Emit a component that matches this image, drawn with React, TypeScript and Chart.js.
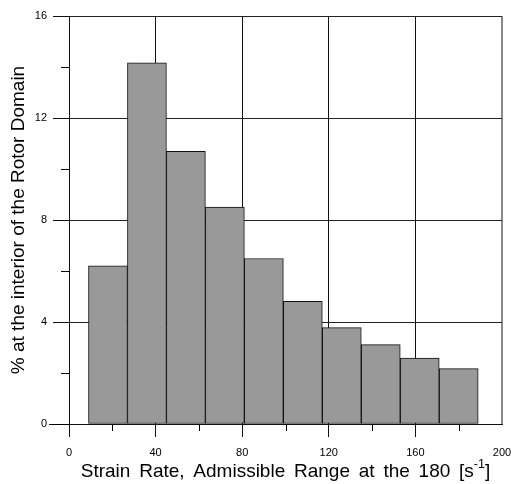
import React, { useEffect, useRef } from 'react';
import { Chart, registerables } from 'chart.js';

Chart.register(...registerables);

// Histogram bins (centre of each 18-wide bin) and their percentages
const binCenters = [18, 36, 54, 72, 90, 108, 126, 144, 162, 180];
const percentages = [6.2, 14.16, 10.69, 8.51, 6.49, 4.81, 3.78, 3.11, 2.59, 2.17];

const xMin = 0;
const xMax = 200;
const xMajorStep = 40;
const xMinorTicks = [20, 60, 100, 140, 180];
const yMin = 0;
const yMax = 16;
const yMajorStep = 4;
const yMinorTicks = [2, 6, 10, 14];

const yTitle = '% at the interior of the Rotor Domain';
const xTitleMain = 'Strain Rate, Admissible Range at the 180 [s';
const xTitleSup = '-1';
const xTitleEnd = ']';

const FONT = "'Liberation Sans', Arial, sans-serif";

const extrasPlugin = {
  id: 'extras',
  afterDraw(chart: any) {
    const ctx = chart.ctx;
    const xs = chart.scales.x;
    const ys = chart.scales.y;
    const area = chart.chartArea;
    ctx.save();
    ctx.strokeStyle = '#000';
    ctx.lineWidth = 1;
    // minor ticks
    xMinorTicks.forEach((v) => {
      const px = Math.round(xs.getPixelForValue(v)) + 0.5;
      ctx.beginPath();
      ctx.moveTo(px, area.bottom);
      ctx.lineTo(px, area.bottom + 7);
      ctx.stroke();
    });
    yMinorTicks.forEach((v) => {
      const py = Math.round(ys.getPixelForValue(v)) + 0.5;
      ctx.beginPath();
      ctx.moveTo(area.left - 8, py);
      ctx.lineTo(area.left, py);
      ctx.stroke();
    });
    // longer tick at y = 0
    const y0 = Math.round(ys.getPixelForValue(yMin)) + 0.5;
    ctx.beginPath();
    ctx.moveTo(area.left - 20, y0);
    ctx.lineTo(area.left, y0);
    ctx.stroke();

    // x title with superscript
    ctx.fillStyle = '#000';
    ctx.textBaseline = 'alphabetic';
    ctx.textAlign = 'left';
    const mainFont = `19px ${FONT}`;
    const supFont = `12.5px ${FONT}`;
    try {
      (ctx as any).wordSpacing = '3.5px';
    } catch (e) {}
    ctx.font = mainFont;
    const w1 = ctx.measureText(xTitleMain).width;
    const w3 = ctx.measureText(xTitleEnd).width;
    ctx.font = supFont;
    const w2 = ctx.measureText(xTitleSup).width;
    const total = w1 + w2 + w3;
    const cx = (area.left + area.right) / 2;
    let x = cx - total / 2;
    const baseY = 477;
    ctx.font = mainFont;
    ctx.fillText(xTitleMain, x, baseY);
    x += w1;
    ctx.font = supFont;
    ctx.fillText(xTitleSup, x, baseY - 9);
    x += w2;
    ctx.font = mainFont;
    ctx.fillText(xTitleEnd, x, baseY);
    ctx.restore();
  },
};

export default function App() {
  const ref = useRef<HTMLCanvasElement | null>(null);

  useEffect(() => {
    document.body.style.margin = '0';
    const canvas = ref.current;
    if (!canvas) return;
    const chart = new Chart(canvas, {
      type: 'bar',
      data: {
        datasets: [
          {
            data: binCenters.map((c, i) => ({ x: c, y: percentages[i] })),
            backgroundColor: '#999999',
            borderColor: '#111111',
            borderWidth: 1,
            borderSkipped: false,
            barPercentage: 1,
            categoryPercentage: 1,
          },
        ],
      },
      options: {
        animation: false,
        responsive: false,
        layout: { padding: { top: 16, right: 9, left: 0, bottom: 0 } },
        plugins: { legend: { display: false }, tooltip: { enabled: false } },
        scales: {
          x: {
            type: 'linear',
            min: xMin,
            max: xMax,
            offset: false,
            grid: {
              offset: false,
              drawTicks: true,
              tickLength: 13,
              color: (c: any) => {
                const v = c.tick && c.tick.value;
                if (v === xMax) return '#8a8a8a';
                return v % xMajorStep === 0 ? '#111' : 'rgba(0,0,0,0)';
              },
              lineWidth: (c: any) => (c.tick && c.tick.value === xMax ? 2 : 1),
              tickColor: (c: any) =>
                c.tick && c.tick.value % xMajorStep === 0 && c.tick.value !== xMax ? '#111' : 'rgba(0,0,0,0)',
            },
            border: { display: true, color: '#111', width: 1 },
            ticks: {
              stepSize: 20,
              autoSkip: false,
              maxRotation: 0,
              padding: 9,
              color: '#000',
              font: { family: FONT, size: 11 },
              callback: (v: any) => (Number(v) % xMajorStep === 0 ? String(v) : ''),
            },
            afterFit: (s: any) => {
              s.height = 60;
              s.paddingLeft = 0;
              s.paddingRight = 0;
              s.paddingTop = 0;
              s.paddingBottom = 0;
            },
          },
          y: {
            type: 'linear',
            min: yMin,
            max: yMax,
            grid: {
              drawTicks: true,
              tickLength: 16,
              color: (c: any) =>
                c.tick && c.tick.value % yMajorStep === 0 ? '#222' : 'rgba(0,0,0,0)',
              tickColor: (c: any) =>
                c.tick && c.tick.value % yMajorStep === 0 ? '#111' : 'rgba(0,0,0,0)',
            },
            border: { display: true, color: '#111', width: 1 },
            ticks: {
              stepSize: 2,
              autoSkip: false,
              padding: 6,
              color: '#000',
              font: { family: FONT, size: 11 },
              callback: (v: any) => (Number(v) % yMajorStep === 0 ? String(v) : ''),
            },
            title: {
              display: true,
              text: yTitle,
              color: '#000',
              font: { family: FONT, size: 19 },
              padding: { top: 7, bottom: 0 },
            },
            afterFit: (s: any) => {
              s.width = 69;
              s.paddingLeft = 0;
              s.paddingRight = 0;
              s.paddingTop = 0;
              s.paddingBottom = 0;
            },
          },
        },
      } as any,
      plugins: [extrasPlugin],
    });
    return () => chart.destroy();
  }, []);

  return (
    <div style={{ width: 511, height: 484, background: '#fff' }}>
      <canvas ref={ref} width={511} height={484} style={{ display: 'block' }} />
    </div>
  );
}
